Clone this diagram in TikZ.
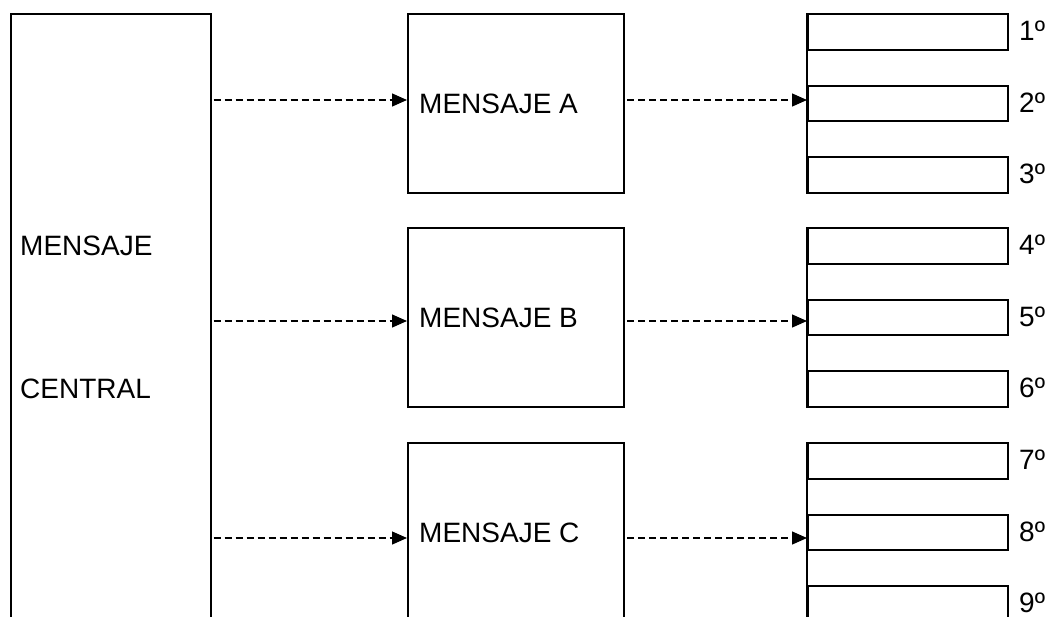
\documentclass[tikz,border=0pt]{standalone}
\usepackage{fontspec}
\setmainfont{Liberation Sans}
\usetikzlibrary{arrows.meta}

\begin{document}
\begin{tikzpicture}[x=1pt,y=-1pt,>={Triangle[length=15pt,width=13pt]},
    % Define the style for the boxes
    box/.style={draw, line width=2pt, rectangle, anchor=north west, inner sep=0pt},
    central box/.style={box, minimum width=200, minimum height=660},
    message box/.style={box, minimum width=216, minimum height=179},
    slot/.style={box, minimum width=200, minimum height=35.5},
    % Define the style for the texts
    txt/.style={anchor=west, inner sep=0pt, font=\fontsize{28}{32}\selectfont},
    ord/.style={txt, text depth=0pt},
    % Define the style for the dashed arrows
    link/.style={->, line width=1.3pt, dash pattern=on 7pt off 4pt, shorten <=2pt}
]

\useasboundingbox (0,0) rectangle (1047,616);
\clip (0,0) rectangle (1047,616);

% Central message on the left
\node[central box] (central) at (9.5,13) {};
\node[txt] (central-1) at (20,246) {MENSAJE};
\node[txt] (central-2) at (20,389) {CENTRAL};

% Three messages in the middle
\foreach \m/\top in {A/13,B/227,C/442} {
    \node[message box] (msg\m) at (407,\top) {};
    \node[txt] (msg\m-txt) at ([xshift=12pt]msg\m.west) {MENSAJE \m};
}

% Stacks of slots on the right, three for each message
\foreach \m/\top/\s in {A/13/0,B/227/1,C/442/2} {
    \foreach \k in {1,2,3} {
        \pgfmathtruncatemacro\num{3*\s+\k}
        \node[slot] (S\m-\k) at (807,{\top+71.5*(\k-1)}) {};
        \node[ord] (S\m-\k-num) at ([xshift=10pt,yshift=1pt]S\m-\k.east) {\num º};
    }
    \draw[line width=2pt] (S\m-1.north west) -- (S\m-3.south west);
}

% Connect the central message to each message, and each message to its stack
\foreach \m/\y in {A/100,B/321,C/538} {
    \draw[link] (central.east |- 0,\y) -- (msg\m.west |- 0,\y);
    \draw[link] (msg\m.east |- 0,\y) -- (S\m-2.west |- 0,\y);
}

\end{tikzpicture}
\end{document}
